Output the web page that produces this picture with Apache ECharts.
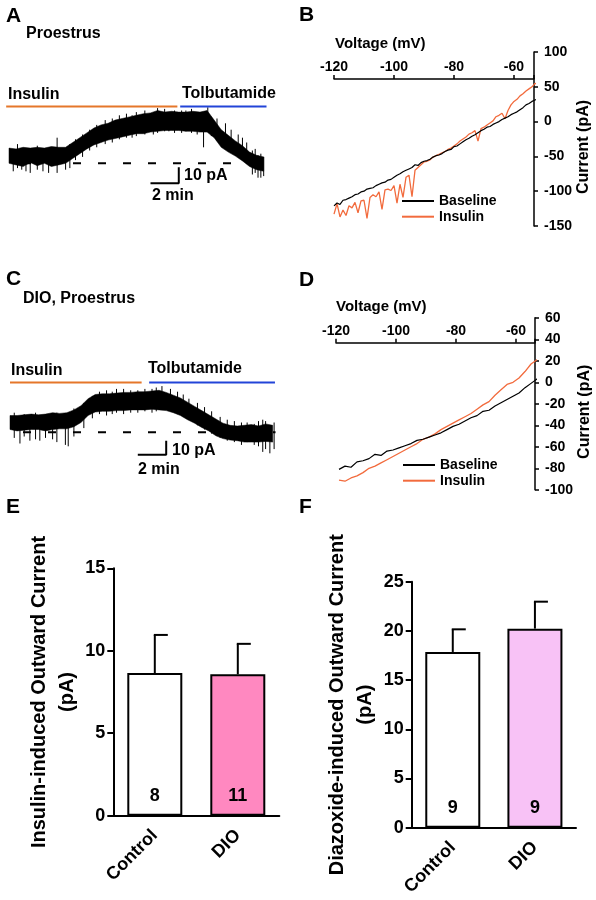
<!DOCTYPE html>
<html><head><meta charset="utf-8">
<script src="https://cdn.jsdelivr.net/npm/echarts@6.0.0/dist/echarts.min.js"></script>
<style>html,body{margin:0;padding:0;background:#fff}#c{width:596px;height:900px}</style>
</head><body><div id="c"></div>
<script>
// ---------- Panel A: Proestrus trace (time in min, current in pA) ----------
const aTime = [0,0.5,1,1.5,2,2.5,3,3.5,4,4.5,5,5.5,6,6.5,7,7.5,8,8.5,9,9.5,10,10.5,11,11.5,12,12.5,13,13.5,14,14.5,15,15.5,16,16.5,17,17.5,18];
const aHi = [9.5,9,10,9.5,10,9.5,10.5,10,10,13,16,19,22,24,25,27,28,29,30,31,31.5,33,32,32.5,32,32,32.5,32,33,27,21,17.5,14,11,7,5,4];
const aLo = [0,-1,-2,0.5,-1.5,0,-2,-1,0,3,6,9,11.5,13,14.5,15.5,16.5,17.5,18.5,18.5,19.5,20,20.5,20.5,20.5,20,20,19.5,19.5,16,10,7,4.5,1.5,-2,-4,-5];
const aSpikes = [[0.3,-5,6],[0.6,-3,12],[0.9,-4,8],[1.2,-5,9],[1.5,-6,7],[2.0,-4,11],[2.4,-5,8],[2.8,-6,9],[3.4,-6,16],[4.0,-4,9],[4.3,-3,12],[4.7,2,15],[5.2,4,18],[5.7,8,21],[6.2,10,24],[6.8,12,27],[7.3,13,28],[7.8,15,30],[8.3,16,31],[8.7,16,30],[9.0,17,32],[9.6,18,33],[10.2,18,31],[10.5,19,34.5],[11.0,20,34],[11.3,20,32],[11.7,19,33],[12.2,19,33],[12.5,20,33],[12.9,19,34],[13.3,18,31],[13.75,10,30],[14.05,20,35],[14.3,17,29],[14.7,14,28],[15.3,12,25],[15.7,9,21],[16.2,6,18],[16.5,4,16],[16.8,0,13],[17.2,-7,8],[17.4,-6,9],[17.6,-9,5],[17.8,-9,6],[18.0,-8,4]];
const aInsulinSpan = [-0.2, 11.9];
const aTolbSpan = [12.1, 18.2];
const aDrugLevel = 35.5;
const aBaselineSpan = [0, 18.2];
const aScaleBar = [10, 12, -12.5, -2.5];   // x0, x1 (min), y0, y1 (pA)

// ---------- Panel C: DIO, Proestrus trace ----------
const cTime = [0,0.5,1,1.5,2,2.5,3,3.5,4,4.5,5,5.5,6,6.5,7,7.5,8,8.5,9,9.5,10,10.5,11,11.5,12,12.5,13,13.5,14,14.5,15,15.5,16,16.5,17,17.5,18,18.5];
const cHi = [12,12,12.5,13,12.5,13,14,13.5,14,16,19,24,27,27.5,27.5,28,28.5,28.5,29,29,29.5,30,28.5,26.5,24.5,21.5,18.5,15.5,12.5,9.5,6.5,5,4.5,5,5.5,4.5,6,5];
const cLo = [2,1,1.5,2,2,1,2,2.5,2.5,4,7,12,14.5,15,15,15.5,15.5,16,16,16,16.5,16,15.5,14,12,9,6.5,3.5,1,-2.5,-4.5,-5.5,-6,-7,-7,-7,-6.5,-7];
const cSpikes = [[0.3,-4,14],[0.7,-8,10],[1.0,-3,13],[1.4,-6,11],[1.8,-5,14],[2.1,-6,12],[2.5,-4,13],[3.0,-5,13],[3.3,-7,14],[3.9,-9,12],[4.1,-10,13],[4.5,-3,17],[5.2,3,21],[5.8,10,26],[6.3,13,29],[6.8,12,30],[7.2,13,29],[7.5,14,31],[8.0,13,31],[8.5,14,30],[9.0,14,30],[9.5,15,31],[10.0,14,31],[10.3,15,32],[10.7,16,33],[11.3,15,31],[11.8,13,29],[12.2,11,27],[12.6,9,24],[13.2,5,21],[13.7,2,18],[14.2,-1,15],[14.8,-4,11],[15.3,-6,9],[15.8,-7,8],[16.3,-9,7],[16.7,-7,7],[17.2,-9,6],[17.5,-10,8],[17.8,-14,9],[18.0,-12,8],[18.3,-15,5],[18.6,-12,7]];
const cInsulinSpan = [0, 9.27];
const cTolbSpan = [9.8, 18.66];
const cDrugLevel = 35.6;
const cBaselineSpan = [0, 18.7];
const cScaleBar = [9, 11, -16, -6];

// ---------- Panel B: I-V, Proestrus ----------
const bVolt = [-120,-119,-118,-117,-116,-115,-114,-113,-112,-111,-110,-109,-108,-107,-106,-105,-104,-103,-102,-101,-100,-99,-98,-97,-96,-95,-94,-93,-92,-91,-90,-89,-88,-87,-86,-85,-84,-83,-82,-81,-80,-79,-78,-77,-76,-75,-74,-73,-72,-71,-70,-69,-68,-67,-66,-65,-64,-63,-62,-61,-60,-59,-58,-57,-56,-55,-54,-53,-52,-51,-50];
const bBaseline = [-121,-117,-119,-113,-112,-110,-108,-105,-104,-101,-100,-97,-96,-95,-92,-90,-88,-87,-84,-83,-80,-77,-75,-72,-70,-68,-66,-62,-63,-59,-57,-56,-54,-51,-49,-48,-46,-43,-41,-40,-36,-35,-32,-29,-26,-24,-21,-19,-16,-13,-11,-8,-7,-4,-2,0,3,5,7,10,12,14,17,20,24,26,29,31,33,37,40];
const bInsulin = [-133,-118,-137,-127,-135,-121,-124,-116,-131,-114,-113,-139,-109,-105,-108,-101,-126,-98,-97,-99,-92,-117,-90,-109,-80,-77,-108,-70,-66,-62,-58,-57,-55,-51,-49,-47,-45,-43,-40,-38,-35,-32,-28,-25,-22,-18,-16,-13,-28,-10,-8,-5,-2,1,7,9,12,4,16,24,29,32,37,40,44,47,50,55,53,62,70];
const bVoltTicks = [-120,-100,-80,-60];

// ---------- Panel D: I-V, DIO ----------
const dVolt = [-119,-117,-115,-113,-111,-109,-107,-105,-103,-101,-99,-97,-95,-93,-91,-89,-87,-85,-83,-81,-79,-77,-75,-73,-71,-69,-67,-65,-63,-61,-59,-57,-55,-53,-52,-51,-50];
const dBaseline = [-81,-78,-79,-74,-73,-71,-67,-68,-64,-63,-61,-59,-57,-54,-53,-51,-49,-47,-44,-41,-39,-36,-33,-31,-27,-26,-22,-19,-16,-13,-10,-5,-1,3,6,4,13];
const dInsulin = [-91,-92,-89,-87,-84,-80,-78,-75,-72,-69,-66,-63,-60,-57,-53,-51,-48,-44,-41,-38,-35,-32,-29,-25,-21,-18,-12,-7,-2,0,4,10,17,21,24,28,33];

// ---------- Panels E, F: bar charts ----------
const groups = ['Control', 'DIO'];
const eMean = [8.65, 8.57];
const eSem = [2.31, 1.85];
const eN = [8, 11];
const fMean = [17.86, 20.23];
const fSem = [2.30, 2.74];
const fN = [9, 9];

// ---------------------------------------------------------------
const FF = '"Liberation Sans", Arial, Helvetica, sans-serif';
const ORANGE = '#e5772a', BLUE = '#2244d8', INS = '#f26b3d';

function bandSeries(xi, times, hi, lo) {
  return {
    type: 'custom', xAxisIndex: xi, yAxisIndex: xi, silent: true, z: 3,
    data: [[times[0], lo[0]]],
    renderItem: function (params, api) {
      const pts = [];
      for (let i = 0; i < times.length; i++) pts.push(api.coord([times[i], hi[i]]));
      for (let i = times.length - 1; i >= 0; i--) pts.push(api.coord([times[i], lo[i]]));
      return { type: 'polygon', shape: { points: pts }, style: { fill: '#000', stroke: '#000', lineWidth: 0.5 } };
    }
  };
}
function spikeSeries(xi, spikes) {
  return {
    type: 'custom', xAxisIndex: xi, yAxisIndex: xi, silent: true, z: 3,
    data: spikes, encode: { x: 0, y: [1, 2] },
    renderItem: function (params, api) {
      const a = api.coord([api.value(0), api.value(1)]);
      const b = api.coord([api.value(0), api.value(2)]);
      return { type: 'line', shape: { x1: a[0], y1: a[1], x2: b[0], y2: b[1] }, style: { stroke: '#000', lineWidth: 1 } };
    }
  };
}
function segSeries(xi, pts, color, width, type, dashOffset) {
  return {
    type: 'line', xAxisIndex: xi, yAxisIndex: xi, data: pts, symbol: 'none', silent: true,
    z: type ? 1 : 4,
    lineStyle: { color: color, width: width, type: type || 'solid', dashOffset: dashOffset || 0, cap: 'butt' }
  };
}
function traceSeries(xi, times, hi, lo, spikes, insSpan, tolSpan, level, baseSpan, sb, dOff) {
  return [
    segSeries(xi, [[baseSpan[0], 0], [baseSpan[1], 0]], '#000', 2, [8, 17], dOff),
    bandSeries(xi, times, hi, lo),
    spikeSeries(xi, spikes),
    segSeries(xi, [[insSpan[0], level], [insSpan[1], level]], ORANGE, 2),
    segSeries(xi, [[tolSpan[0], level], [tolSpan[1], level]], BLUE, 2),
    segSeries(xi, [[sb[0], sb[2]], [sb[1], sb[2]], [sb[1], sb[3]]], '#000', 2)
  ];
}
function ivLines(xi, volts, base, ins) {
  return [
    { type: 'line', name: 'Insulin', xAxisIndex: xi, yAxisIndex: xi, clip: false, symbol: 'none', z: 2,
      color: INS, lineStyle: { color: INS, width: 1.3 }, data: volts.map((v, i) => [v, ins[i]]) },
    { type: 'line', name: 'Baseline', xAxisIndex: xi, yAxisIndex: xi, clip: false, symbol: 'none', z: 3,
      color: '#000', lineStyle: { color: '#000', width: 1.2 }, data: volts.map((v, i) => [v, base[i]]) }
  ];
}
function barSeries(xi, mean, n, colors) {
  return {
    type: 'bar', xAxisIndex: xi, yAxisIndex: xi, barWidth: 55, silent: true, z: 2,
    data: mean.map((m, i) => ({ value: m, itemStyle: { color: colors[i] } })),
    itemStyle: { borderColor: '#000', borderWidth: 2 },
    label: { show: true, position: 'insideBottom', distance: 11, color: '#000',
      fontFamily: FF, fontWeight: 'bold', fontSize: 18, formatter: p => String(n[p.dataIndex]) }
  };
}
function errSeries(xi, mean, sem) {
  return {
    type: 'custom', xAxisIndex: xi, yAxisIndex: xi, silent: true, z: 3,
    data: mean.map((m, i) => [i, m, m + sem[i]]), encode: { x: 0, y: [1, 2] },
    renderItem: function (params, api) {
      const p0 = api.coord([api.value(0), api.value(1)]);
      const p1 = api.coord([api.value(0), api.value(2)]);
      return { type: 'group', children: [
        { type: 'line', shape: { x1: p0[0], y1: p0[1], x2: p1[0], y2: p1[1] }, style: { stroke: '#000', lineWidth: 2 } },
        { type: 'line', shape: { x1: p1[0] - 1, y1: p1[1], x2: p1[0] + 13, y2: p1[1] }, style: { stroke: '#000', lineWidth: 2 } }
      ] };
    }
  };
}
function txt(x, y, text, size) {
  return { type: 'text', x: x, y: y, z: 100, silent: true,
    style: { text: text, font: 'bold ' + size + 'px ' + FF, fill: '#000', align: 'left', verticalAlign: 'middle' } };
}
const hidden = { show: false };
function hiddenX(min, max, gi) { return { type: 'value', gridIndex: gi, min: min, max: max, show: false }; }
function ivX(gi, offset, max) {
  return {
    type: 'value', gridIndex: gi, position: 'top', offset: offset, min: -120, max: max, interval: 20,
    axisLine: { onZero: false, lineStyle: { color: '#000', width: 1.5 } },
    axisTick: { length: 4, lineStyle: { color: '#000', width: 1.5 } },
    splitLine: hidden,
    axisLabel: { margin: 5, color: '#000', fontFamily: FF, fontWeight: 'bold', fontSize: 14,
      formatter: v => (bVoltTicks.indexOf(v) >= 0 ? String(v) : '') }
  };
}
function ivY(gi, min, max, interval) {
  return {
    type: 'value', gridIndex: gi, position: 'right', min: min, max: max, interval: interval,
    name: 'Current (pA)', nameLocation: 'middle', nameGap: 42,
    nameTextStyle: { color: '#000', fontFamily: FF, fontWeight: 'bold', fontSize: 16, padding: [0, 16, 0, 0] },
    axisLine: { onZero: false, lineStyle: { color: '#000', width: 1.5 } },
    axisTick: { length: 4, lineStyle: { color: '#000', width: 1.5 } },
    splitLine: hidden,
    axisLabel: { margin: 10, color: '#000', fontFamily: FF, fontWeight: 'bold', fontSize: 14 }
  };
}
function barX(gi) {
  return {
    type: 'category', gridIndex: gi, data: groups,
    axisLine: { lineStyle: { color: '#000', width: 2 } }, axisTick: hidden,
    axisLabel: { rotate: 45, margin: 17, color: '#000', fontFamily: FF, fontWeight: 'bold', fontSize: 18 }
  };
}
function barY(gi, max, name, gap) {
  return {
    type: 'value', gridIndex: gi, min: 0, max: max, interval: 5,
    name: name, nameLocation: 'middle', nameGap: gap,
    nameTextStyle: { color: '#000', fontFamily: FF, fontWeight: 'bold', fontSize: 20, lineHeight: 28, align: 'center' },
    axisLine: { show: true, lineStyle: { color: '#000', width: 2 } },
    axisTick: { show: true, length: 6, lineStyle: { color: '#000', width: 2 } },
    splitLine: hidden,
    axisLabel: { margin: 8, color: '#000', fontFamily: FF, fontWeight: 'bold', fontSize: 18 }
  };
}
function grid(l, t, w, h) { return { left: l, top: t, width: w, height: h, containLabel: false, outerBoundsMode: 'none' }; }
function legend(l, t) {
  return { data: ['Baseline', 'Insulin'], orient: 'vertical', left: l, top: t, padding: 0,
    icon: 'rect', itemWidth: 32, itemHeight: 2, itemGap: 1.7, selectedMode: false,
    textStyle: { color: '#000', fontFamily: FF, fontWeight: 'bold', fontSize: 14, lineHeight: 14 } };
}

const option = {
  animation: false,
  backgroundColor: '#fff',
  textStyle: { fontFamily: FF },
  grid: [
    grid(1.93, 99.3, 275.9, 88),      // A
    grid(2.9, 376.3, 276.9, 84),      // C
    grid(334, 52, 200, 174),          // B
    grid(336, 317.8, 199, 172),       // D
    grid(113.3, 568.3, 166, 247.4),   // E
    grid(411.7, 581.7, 164.3, 246)    // F
  ],
  xAxis: [
    hiddenX(-0.5, 19, 0),
    hiddenX(-0.5, 19, 1),
    ivX(2, -27, -53.33),
    ivX(3, -24.9, -53.67),
    barX(4),
    barX(5)
  ],
  yAxis: [
    { type: 'value', gridIndex: 0, min: -15, max: 40, show: false },
    { type: 'value', gridIndex: 1, min: -20, max: 40, show: false },
    ivY(2, -150, 100, 50),
    ivY(3, -100, 60, 20),
    barY(4, 15, 'Insulin-induced Outward Current\n(pA)', 26),
    barY(5, 25, 'Diazoxide-induced Outward Current\n(pA)', 29)
  ],
  legend: [legend(402, 194), legend(403, 458)],
  series: [].concat(
    traceSeries(0, aTime, aHi, aLo, aSpikes, aInsulinSpan, aTolbSpan, aDrugLevel, aBaselineSpan, aScaleBar, 11),
    traceSeries(1, cTime, cHi, cLo, cSpikes, cInsulinSpan, cTolbSpan, cDrugLevel, cBaselineSpan, cScaleBar, 12),
    ivLines(2, bVolt, bBaseline, bInsulin),
    ivLines(3, dVolt, dBaseline, dInsulin),
    [barSeries(4, eMean, eN, ['#ffffff', '#ff88c0']), errSeries(4, eMean, eSem),
     barSeries(5, fMean, fN, ['#ffffff', '#f8c2f6']), errSeries(5, fMean, fSem)]
  ),
  graphic: [
    txt(6, 16, 'A', 21), txt(26, 33.5, 'Proestrus', 16),
    txt(8, 95, 'Insulin', 16), txt(182, 93.5, 'Tolbutamide', 16),
    txt(184, 176, '10 pA', 16), txt(152, 196, '2 min', 16),
    txt(299, 15, 'B', 21), txt(335, 43.5, 'Voltage (mV)', 15),
    txt(6, 279, 'C', 21), txt(23, 299, 'DIO, Proestrus', 16),
    txt(11, 370.5, 'Insulin', 16), txt(148, 368.3, 'Tolbutamide', 16),
    txt(172, 450.7, '10 pA', 16), txt(138, 470, '2 min', 16),
    txt(299, 280, 'D', 21), txt(336, 306.7, 'Voltage (mV)', 15),
    txt(6, 507.5, 'E', 21), txt(299, 507, 'F', 21)
  ]
};
const chart = echarts.init(document.getElementById('c'), null, { renderer: 'canvas' });
chart.setOption(option);
</script></body></html>
